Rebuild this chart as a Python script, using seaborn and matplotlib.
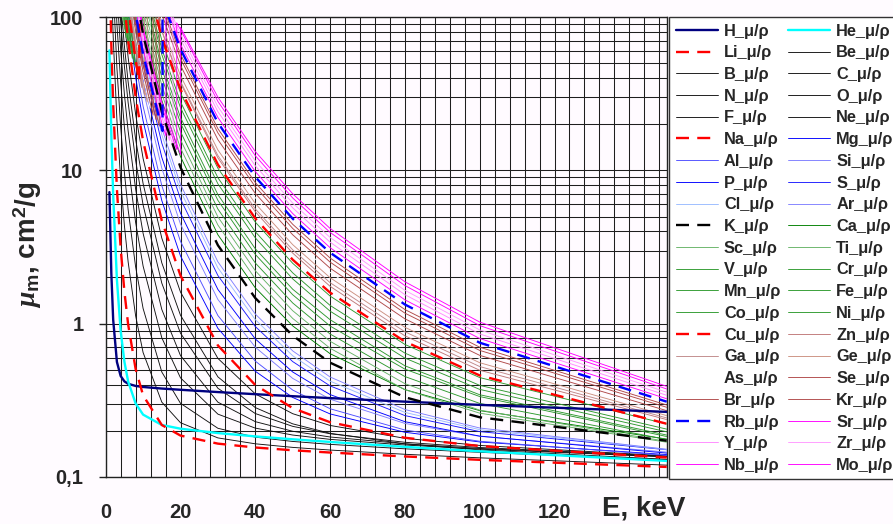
import matplotlib
matplotlib.use("Agg")
import matplotlib.pyplot as plt
import seaborn as sns
import pandas as pd
from matplotlib.ticker import FixedLocator, MultipleLocator, LogLocator, NullFormatter

# ---------------- data (mass attenuation coefficient, cm^2/g) ----------------
ENERGY_KEV = [1, 1.5, 2, 3, 4, 5, 6, 8, 10, 15, 20, 30, 40, 50, 60, 80, 100, 150]

H  = [7.217, 2.148, 1.059, 0.5612, 0.4546, 0.4193, 0.4042, 0.3914, 0.3854, 0.3764, 0.3695, 0.3570, 0.3458, 0.3355, 0.3260, 0.3091, 0.2944, 0.2651]
He = [60.84, 17.19, 6.904, 1.928, 0.8969, 0.5636, 0.4190, 0.3008, 0.2543, 0.2177, 0.2058, 0.1927, 0.1833, 0.1755, 0.1686, 0.1567, 0.1465, 0.1268]
Li = [233.9, 66.68, 27.07, 7.549, 3.114, 1.619, 0.9875, 0.5054, 0.3395, 0.2176, 0.1856, 0.1644, 0.1551, 0.1488, 0.1438, 0.1356, 0.1289, 0.1158]
Be = [604.1, 179.7, 74.69, 21.27, 8.685, 4.369, 2.527, 1.124, 0.6466, 0.3070, 0.2251, 0.1792, 0.1640, 0.1554, 0.1493, 0.1401, 0.1328, 0.1190]
B  = [1229, 376.6, 159.7, 46.67, 19.27, 9.683, 5.538, 2.346, 1.255, 0.4827, 0.3014, 0.2071, 0.1812, 0.1699, 0.1626, 0.1521, 0.1443, 0.1292]
C  = [2211, 700.2, 302.6, 90.33, 37.78, 19.12, 10.95, 4.576, 2.373, 0.8071, 0.4420, 0.2562, 0.2076, 0.1871, 0.1753, 0.1610, 0.1514, 0.1347]
N  = [3311, 1083, 476.9, 145.6, 61.66, 31.44, 18.09, 7.562, 3.879, 1.236, 0.6178, 0.3066, 0.2288, 0.1980, 0.1817, 0.1639, 0.1529, 0.1353]
O  = [4590, 1549, 694.9, 217.1, 93.15, 47.90, 27.70, 11.63, 5.952, 1.836, 0.8651, 0.3779, 0.2585, 0.2132, 0.1907, 0.1678, 0.1551, 0.1361]
F  = [5649, 1979, 903.7, 288.3, 125.3, 65.03, 37.84, 16.01, 8.205, 2.492, 1.133, 0.4487, 0.2828, 0.2214, 0.1920, 0.1639, 0.1496, 0.1298]
Ne = [7409, 2666, 1243, 405.1, 178.5, 93.39, 54.67, 23.28, 11.97, 3.613, 1.606, 0.5923, 0.3473, 0.2579, 0.2161, 0.1781, 0.1600, 0.1368]
Na = [654.2, 3194, 1521, 507.0, 226.1, 119.4, 70.30, 30.18, 15.57, 4.694, 2.057, 0.7197, 0.3969, 0.2804, 0.2268, 0.1796, 0.1585, 0.1335]
Mg = [922.5, 4004, 1932, 658.5, 297.4, 158.3, 93.81, 40.61, 21.05, 6.358, 2.763, 0.9306, 0.4881, 0.3292, 0.2570, 0.1951, 0.1686, 0.1394]
Al = [1185, 402.2, 2263, 788.0, 360.5, 193.4, 115.3, 50.33, 26.23, 7.955, 3.441, 1.128, 0.5685, 0.3681, 0.2778, 0.2018, 0.1704, 0.1378]
Si = [1570, 535.5, 2777, 978.4, 452.9, 245.0, 147.0, 64.68, 33.89, 10.34, 4.464, 1.436, 0.7012, 0.4385, 0.3207, 0.2228, 0.1835, 0.1448]
P  = [1913, 654.7, 301.9, 1118, 522.4, 284.1, 171.2, 75.74, 39.79, 12.17, 5.253, 1.670, 0.7936, 0.4829, 0.3437, 0.2287, 0.1841, 0.1426]
S  = [2429, 834.2, 385.3, 1339, 633.8, 346.7, 209.9, 93.34, 49.17, 15.07, 6.508, 2.059, 0.9564, 0.5645, 0.3917, 0.2507, 0.1970, 0.1500]
Cl = [2832, 977.1, 452.0, 1473, 703.7, 387.0, 235.2, 105.0, 55.49, 17.10, 7.359, 2.310, 1.061, 0.6163, 0.4208, 0.2629, 0.2029, 0.1506]
Ar = [3184, 1105, 511.7, 170.3, 757.1, 416.0, 254.5, 114.4, 60.54, 18.88, 8.104, 2.530, 1.154, 0.6632, 0.4479, 0.2747, 0.2080, 0.1511]
K  = [4058, 1418, 659.2, 219.8, 956.1, 526.3, 323.2, 145.3, 77.45, 24.16, 10.46, 3.246, 1.467, 0.8343, 0.5555, 0.3302, 0.2444, 0.1718]
Ca = [4867, 1714, 799.9, 267.6, 121.1, 602.6, 373.1, 170.4, 91.41, 28.65, 12.32, 3.800, 1.711, 0.9653, 0.6357, 0.3705, 0.2701, 0.1760]
Sc = [5238, 1858, 870.6, 292.3, 132.6, 628.0, 382.0, 178.8, 97.90, 31.70, 14.00, 4.400, 1.960, 1.080, 0.6900, 0.3700, 0.2600, 0.1680]
Ti = [5869, 2096, 986.0, 332.3, 151.7, 683.8, 432.3, 202.3, 110.7, 35.87, 15.85, 4.972, 2.214, 1.213, 0.7661, 0.4052, 0.2721, 0.1700]
V  = [6495, 2342, 1106, 374.3, 171.5, 93.60, 476.8, 226.9, 124.6, 40.44, 17.90, 5.595, 2.488, 1.363, 0.8547, 0.4509, 0.3011, 0.1750]
Cr = [7405, 2694, 1277, 433.9, 199.3, 108.9, 526.0, 254.5, 140.5, 45.98, 20.41, 6.377, 2.829, 1.542, 0.9636, 0.5040, 0.3338, 0.1830]
Mn = [8093, 2971, 1414, 483.1, 222.8, 122.1, 74.10, 272.8, 151.4, 49.82, 22.17, 6.947, 3.080, 1.676, 1.060, 0.5300, 0.3430, 0.1870]
Fe = [9085, 3399, 1626, 557.6, 256.7, 140.1, 84.84, 305.6, 170.6, 57.08, 25.68, 8.176, 3.629, 1.958, 1.205, 0.5952, 0.3717, 0.1964]
Co = [9796, 3697, 1779, 612.1, 283.0, 154.6, 93.67, 330.1, 184.5, 62.13, 28.03, 8.962, 3.981, 2.144, 1.314, 0.6414, 0.3949, 0.2045]
Ni = [9855, 4234, 2049, 709.4, 328.9, 179.7, 109.0, 49.38, 209.0, 70.81, 32.01, 10.34, 4.600, 2.474, 1.512, 0.7306, 0.4440, 0.2208]
Cu = [10570, 4418, 2154, 748.8, 347.3, 189.9, 115.3, 52.55, 215.9, 74.05, 33.79, 10.92, 4.862, 2.613, 1.593, 0.7630, 0.4584, 0.2217]
Zn = [1553, 4800, 2397, 833.0, 386.5, 211.4, 128.3, 58.50, 233.1, 81.17, 37.19, 12.07, 5.375, 2.884, 1.751, 0.8316, 0.4955, 0.2361]
Ga = [1697, 5200, 2600, 940.0, 426.0, 231.0, 139.8, 63.40, 34.30, 82.10, 38.10, 12.51, 5.610, 3.030, 1.850, 0.8840, 0.5240, 0.2420]
Ge = [1893, 5500, 2800, 1025, 465.0, 252.0, 152.4, 69.10, 37.40, 89.40, 41.50, 13.60, 6.083, 3.276, 1.993, 0.9456, 0.5552, 0.2506]
As = [2121, 5900, 3000, 1126, 511.0, 276.0, 167.5, 75.90, 41.10, 98.00, 45.45, 14.87, 6.640, 3.570, 2.160, 1.018, 0.5910, 0.2620]
Se = [2317, 6200, 3200, 1206, 547.0, 296.0, 179.3, 81.30, 44.00, 104.7, 48.55, 15.88, 7.080, 3.800, 2.300, 1.074, 0.6200, 0.2700]
Br = [2624, 6600, 3500, 1340, 608.0, 329.0, 199.3, 90.30, 48.90, 116.0, 53.80, 17.58, 7.820, 4.180, 2.520, 1.170, 0.6680, 0.2840]
Kr = [2854, 7000, 3700, 1433, 650.0, 352.0, 213.1, 96.60, 52.30, 123.8, 57.40, 18.73, 8.330, 4.450, 2.680, 1.235, 0.7010, 0.2940]
Rb = [3184, 7400, 4000, 1567, 711.0, 385.0, 233.0, 105.6, 57.20, 18.80, 62.00, 20.46, 9.080, 4.840, 2.905, 1.332, 0.7500, 0.3090]
Sr = [3452, 7800, 4200, 1704, 773.0, 418.0, 253.0, 114.9, 62.20, 20.40, 66.50, 22.17, 9.830, 5.230, 3.130, 1.429, 0.7990, 0.3230]
Y  = [3743, 8200, 4500, 1866, 846.0, 458.0, 277.0, 125.8, 68.10, 22.30, 72.20, 24.21, 10.72, 5.700, 3.400, 1.544, 0.8560, 0.3400]
Zr = [4033, 8600, 4800, 2017, 915.0, 495.0, 300.0, 135.9, 73.60, 24.10, 77.70, 26.08, 11.54, 6.120, 3.650, 1.649, 0.9090, 0.3560]
Nb = [4385, 9000, 5100, 2187, 992.0, 537.0, 325.0, 147.4, 79.80, 26.20, 83.10, 28.23, 12.48, 6.610, 3.940, 1.771, 0.9700, 0.3740]
Mo = [4687, 9400, 1100, 2334, 1059, 573.0, 347.0, 157.4, 85.20, 27.90, 86.00, 30.08, 13.29, 7.040, 4.180, 1.875, 1.023, 0.3890]

ELEMENTS = ["H", "He", "Li", "Be", "B", "C", "N", "O", "F", "Ne", "Na", "Mg", "Al", "Si",
            "P", "S", "Cl", "Ar", "K", "Ca", "Sc", "Ti", "V", "Cr", "Mn", "Fe", "Co", "Ni",
            "Cu", "Zn", "Ga", "Ge", "As", "Se", "Br", "Kr", "Rb", "Sr", "Y", "Zr", "Nb", "Mo"]
SERIES = [H, He, Li, Be, B, C, N, O, F, Ne, Na, Mg, Al, Si, P, S, Cl, Ar, K, Ca, Sc, Ti, V,
          Cr, Mn, Fe, Co, Ni, Cu, Zn, Ga, Ge, As, Se, Br, Kr, Rb, Sr, Y, Zr, Nb, Mo]

# K absorption edges: energy, value just below, value just above
EDGE_ELEMENTS = ["K", "Ca", "Sc", "Ti", "V", "Cr", "Mn", "Fe", "Co", "Ni", "Cu", "Zn", "Ga",
                 "Ge", "As", "Se", "Br", "Kr", "Rb", "Sr", "Y", "Zr", "Nb", "Mo"]
EDGE_KEV = [3.6074, 4.0381, 4.4928, 4.9664, 5.4651, 5.9892, 6.5390, 7.1120, 7.7089, 8.3328,
            8.9789, 9.6586, 10.367, 11.103, 11.867, 12.658, 13.474, 14.326, 15.200, 16.105,
            17.038, 17.998, 18.986, 19.999]
EDGE_BELOW = [135.9, 118.0, 96.0, 83.8, 73.7, 66.4, 59.1, 54.0, 48.7, 44.4, 38.29, 34.8, 31.1,
              28.0, 25.7, 23.0, 21.5, 19.5, 18.1, 16.8, 15.7, 14.6, 13.7, 12.7]
EDGE_ABOVE = [1246, 1047, 838.0, 687.8, 592.8, 528.0, 461.1, 407.6, 366.1, 329.0, 278.4, 261.0,
              230.0, 199.0, 185.0, 168.0, 156.0, 140.0, 128.0, 117.0, 108.0, 100.0, 92.0, 86.0]

Y_TICKS = [0.1, 1, 10, 100]
Y_TICK_LABELS = ["0,1", "1", "10", "100"]
X_TICKS = [0, 20, 40, 60, 80, 100, 120]

# ---------------- styles ----------------
THIN = 0.65
THICK = 1.7
DASH = (0, (5.5, 3.5))
BLUE_L = "#7d7dff"
STYLE = {
    "H": ("#000080", THICK, "-"), "He": ("#00ffff", THICK, "-"), "Li": ("#ff0000", THICK, DASH),
    "Be": ("#111111", THIN, "-"), "B": ("#111111", THIN, "-"), "C": ("#111111", THIN, "-"),
    "N": ("#111111", THIN, "-"), "O": ("#111111", THIN, "-"), "F": ("#111111", THIN, "-"),
    "Ne": ("#111111", THIN, "-"), "Na": ("#ff0000", THICK, DASH), "Mg": ("#0000ff", THIN, "-"),
    "Al": ("#4d4dff", THIN, "-"), "Si": (BLUE_L, THIN, "-"), "P": ("#0000ff", THIN, "-"),
    "S": ("#1a1aff", THIN, "-"), "Cl": ("#99bbff", THIN, "-"), "Ar": ("#8080ff", THIN, "-"),
    "K": ("#000000", THICK, DASH), "Ca": ("#008000", THIN, "-"), "Sc": ("#66b366", THIN, "-"),
    "Ti": ("#66b366", THIN, "-"), "V": ("#2e9a2e", THIN, "-"), "Cr": ("#2e9a2e", THIN, "-"),
    "Mn": ("#2e9a2e", THIN, "-"), "Fe": ("#2e9a2e", THIN, "-"), "Co": ("#2e9a2e", THIN, "-"),
    "Ni": ("#2e9a2e", THIN, "-"), "Cu": ("#ff0000", THICK, DASH), "Zn": ("#c07878", THIN, "-"),
    "Ga": ("#c08888", THIN, "-"), "Ge": ("#cc9080", THIN, "-"), "As": ("#ffffff", THIN, "-"),
    "Se": ("#b04848", THIN, "-"), "Br": ("#b04848", THIN, "-"), "Kr": ("#b04848", THIN, "-"),
    "Rb": ("#0000ff", THICK, DASH), "Sr": ("#ff00ff", THIN, "-"), "Y": ("#ff88ff", THIN, "-"),
    "Zr": ("#ff99ff", THIN, "-"), "Nb": ("#ff00ff", THIN, "-"), "Mo": ("#ff00ff", THIN, "-"),
}

BG = "#fffbff"
sns.set_theme(style="white")
plt.rcParams["font.family"] = ["Liberation Sans", "DejaVu Sans"]
plt.rcParams["font.weight"] = "bold"
plt.rcParams["mathtext.fontset"] = "custom"
plt.rcParams["mathtext.rm"] = "Liberation Sans:bold"
plt.rcParams["mathtext.it"] = "Liberation Serif:italic:bold"
plt.rcParams["mathtext.bf"] = "Liberation Sans:bold"

W, Hh = 893, 524
fig = plt.figure(figsize=(W / 100, Hh / 100), dpi=100, facecolor=BG)
L, R, T, Bt = 105.7, 666.7, 17.3, 476.7
ax = fig.add_axes([L / W, 1 - Bt / Hh, (R - L) / W, (Bt - T) / Hh])
ax.set_facecolor(BG)
ax.set_yscale("log")

edge_lookup = {e: (k, b, a) for e, k, b, a in zip(EDGE_ELEMENTS, EDGE_KEV, EDGE_BELOW, EDGE_ABOVE)}

handles = {}
for sym, vals in zip(ELEMENTS, SERIES):
    xs, ys = [], []
    edge = edge_lookup.get(sym)
    inserted = False
    for e, v in zip(ENERGY_KEV, vals):
        if edge is not None and not inserted and e > edge[0]:
            xs += [edge[0], edge[0]]
            ys += [edge[1], edge[2]]
            inserted = True
        xs.append(e)
        ys.append(v)
    df = pd.DataFrame({"E": xs, "mu": ys})
    color, lw, ls = STYLE[sym]
    n_before = len(ax.lines)
    sns.lineplot(data=df, x="E", y="mu", ax=ax, estimator=None, sort=False,
                 color=color, linewidth=lw, linestyle=ls, legend=False,
                 zorder=4 if lw == THICK else 3)
    handles[sym] = ax.lines[n_before]

ax.set_xlim(0, 150)
ax.set_ylim(0.1, 100)
ax.set_xlabel("")
ax.set_ylabel("")

# grid
ax.xaxis.set_major_locator(FixedLocator(X_TICKS))
ax.xaxis.set_minor_locator(MultipleLocator(4))
ax.set_xticklabels([str(t) for t in X_TICKS])
ax.yaxis.set_major_locator(FixedLocator(Y_TICKS))
ax.set_yticklabels(Y_TICK_LABELS)
ax.yaxis.set_minor_locator(LogLocator(base=10, subs=[2, 3, 4, 5, 6, 7, 8, 9]))
ax.yaxis.set_minor_formatter(NullFormatter())
ax.set_axisbelow(True)
ax.grid(True, which="both", axis="both", color="#1e1e1e", linewidth=0.75)

ax.tick_params(axis="x", which="both", length=0, pad=19, labelsize=14.5)
ax.tick_params(axis="y", which="major", length=5, width=1, color="#222222",
               direction="out", pad=11, labelsize=14.5, left=True)
ax.tick_params(axis="y", which="minor", length=0)
for lab in ax.get_xticklabels() + ax.get_yticklabels():
    lab.set_fontweight("bold")
for sp in ax.spines.values():
    sp.set_visible(True)
    sp.set_color("#222222")
    sp.set_linewidth(1.0)

# legend (row-major order: H He / Li Be / ...)
col1 = ELEMENTS[0::2]
col2 = ELEMENTS[1::2]
order = col1 + col2
leg = fig.legend([handles[s] for s in order], [s + "_μ/ρ" for s in order],
                 loc="upper left", bbox_to_anchor=(669 / W, 1 - 17 / Hh),
                 ncol=2, frameon=True, fancybox=False, edgecolor="#333333",
                 facecolor="white", framealpha=1, borderaxespad=0, borderpad=0.4,
                 labelspacing=0.41, handlelength=2.6, handletextpad=0.35,
                 columnspacing=0.4,
                 prop={"family": ["Liberation Sans", "DejaVu Sans"], "weight": "bold", "size": 11.8})
leg.get_frame().set_linewidth(1.0)
for t in leg.get_texts():
    t.set_fontweight("bold")

# axis titles
fig.text(28 / W, 1 - 245 / Hh, r"$\mu_{\mathrm{m}}$, cm$^{2}$/g", rotation=90,
         ha="center", va="center", fontsize=20, fontweight="bold")
fig.text(602 / W, 1 - 508 / Hh, "E, keV", ha="left", va="center",
         fontsize=20, fontweight="bold")

fig.savefig("out.png", dpi=100, facecolor=BG)
